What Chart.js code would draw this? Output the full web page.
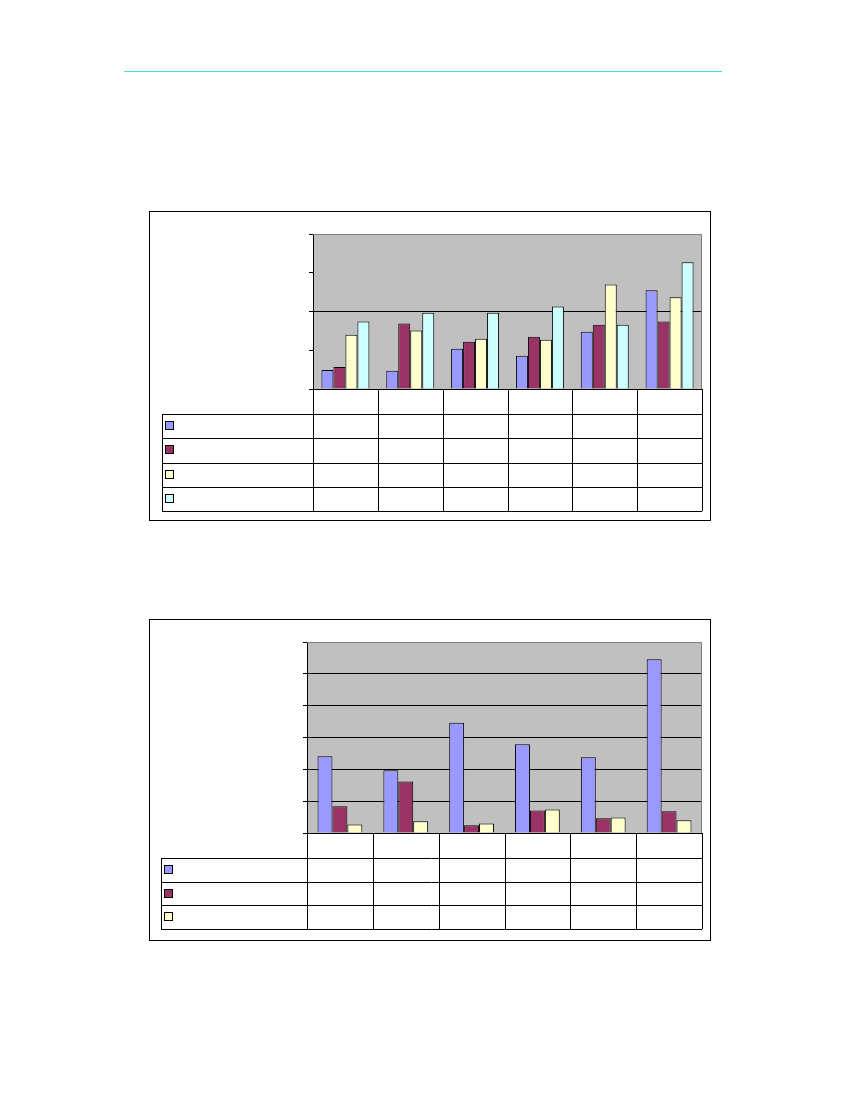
<!DOCTYPE html>
<html>
<head>
<meta charset="utf-8">
<script src="https://cdn.jsdelivr.net/npm/chart.js@4.4.1/dist/chart.umd.min.js"></script>
<style>
  html, body { margin: 0; padding: 0; background: #fff; }
  body { width: 850px; height: 1100px; position: relative; overflow: hidden; font-family: "Liberation Sans", Arial, sans-serif; }
  .rule { position: absolute; left: 124px; top: 71px; width: 598px; height: 1px; background: #40e0f0; }
  .box { position: absolute; border: 1px solid #000; box-sizing: border-box; }
  .box canvas { position: absolute; left: 0; top: 0; }
</style>
</head>
<body>
<div class="rule"></div>
<div class="box" id="box1" style="left:149px; top:211px; width:562px; height:310px;">
  <canvas id="c1" width="562" height="310"></canvas>
</div>
<div class="box" id="box2" style="left:149px; top:619px; width:562px; height:322px;">
  <canvas id="c2" width="562" height="322"></canvas>
</div>
<script>
// Category slots shared by both charts
const categories = ['1', '2', '3', '4', '5', '6'];

// Upper chart: four series
const upperSeriesA = [0.49, 0.47, 1.04, 0.86, 1.48, 2.55];
const upperSeriesB = [0.57, 1.69, 1.22, 1.35, 1.66, 1.74];
const upperSeriesC = [1.40, 1.51, 1.30, 1.27, 2.70, 2.37];
const upperSeriesD = [1.74, 1.97, 1.97, 2.13, 1.66, 3.27];
const upperTicks = [0, 1, 2, 3, 4];

// Lower chart: three series
const lowerSeriesA = [2.41, 1.97, 3.46, 2.79, 2.38, 5.46];
const lowerSeriesB = [0.84, 1.62, 0.24, 0.71, 0.46, 0.68];
const lowerSeriesC = [0.27, 0.37, 0.30, 0.74, 0.49, 0.40];
const lowerTicks = [0, 1, 2, 3, 4, 5, 6];

const palette = ['#9999FF', '#993366', '#FFFFCC', '#CCFFFF'];

// Plot background, grey frame on top/right, and the empty data table with legend keys
const sheetPlugin = {
  id: 'sheet',
  beforeDraw(chart, args, opts) {
    const { ctx, chartArea: a } = chart;
    ctx.save();
    ctx.fillStyle = '#C0C0C0';
    ctx.fillRect(a.left, a.top, a.right - a.left, a.bottom - a.top);
    ctx.restore();
  },
  afterDraw(chart, args, opts) {
    const { ctx, chartArea: a } = chart;
    const xs = chart.scales.x;
    const n = xs.ticks.length;
    const step = (a.right - a.left) / n;
    const rows = chart.data.datasets.length;
    const tableTop = a.bottom + opts.headRow;
    const tableBottom = tableTop + rows * opts.rowH;
    ctx.save();
    // grey frame
    ctx.strokeStyle = '#808080';
    ctx.lineWidth = 1;
    ctx.beginPath();
    ctx.moveTo(a.left, a.top + 0.5);
    ctx.lineTo(a.right - 0.5, a.top + 0.5);
    ctx.lineTo(a.right - 0.5, a.bottom);
    ctx.stroke();
    // table lines
    ctx.strokeStyle = '#000';
    ctx.beginPath();
    for (let i = 0; i <= n; i++) {
      const x = Math.round(a.left + i * step) + 0.5;
      ctx.moveTo(x, a.bottom);
      ctx.lineTo(x, tableBottom);
    }
    for (let r = 0; r <= rows; r++) {
      const y = Math.round(tableTop + r * opts.rowH) + 0.5;
      ctx.moveTo(opts.tableLeft, y);
      ctx.lineTo(a.right, y);
    }
    ctx.moveTo(opts.tableLeft + 0.5, tableTop);
    ctx.lineTo(opts.tableLeft + 0.5, tableBottom);
    ctx.stroke();
    // legend keys
    chart.data.datasets.forEach((ds, r) => {
      const cy = Math.round(tableTop + (r + 0.5) * opts.rowH);
      const kx = opts.tableLeft + 3.5, ky = cy - 4.5;
      ctx.fillStyle = ds.backgroundColor;
      ctx.fillRect(kx, ky, 8, 8);
      ctx.strokeStyle = '#000';
      ctx.strokeRect(kx, ky, 8, 8);
    });
    ctx.restore();
  }
};

function makeChart(id, seriesList, ticks, catPct, pad, table) {
  const maxV = ticks[ticks.length - 1];
  return new Chart(document.getElementById(id), {
    type: 'bar',
    data: {
      labels: categories,
      datasets: seriesList.map((s, i) => ({
        data: s,
        backgroundColor: palette[i],
        borderColor: '#000',
        borderWidth: 1,
        borderSkipped: 'bottom',
        barPercentage: 1,
        categoryPercentage: catPct
      }))
    },
    options: {
      responsive: false,
      animation: false,
      events: [],
      layout: { padding: pad },
      plugins: {
        legend: { display: false },
        tooltip: { enabled: false },
        title: { display: false },
        sheet: table
      },
      scales: {
        x: {
          ticks: { display: false },
          grid: { display: false, drawTicks: false },
          border: { display: true, color: '#000', width: 1 },
          afterFit(scale) { scale.height = 0; }
        },
        y: {
          min: 0,
          max: maxV,
          afterBuildTicks(scale) { scale.ticks = ticks.map(v => ({ value: v })); },
          ticks: { display: false },
          grid: {
            color: c => (c.tick && c.tick.value > 0 && c.tick.value < maxV && (table.gridEvery ? c.tick.value % table.gridEvery === 0 : true)) ? '#000' : 'rgba(0,0,0,0)',
            tickColor: '#000',
            tickLength: 4,
            lineWidth: 1
          },
          border: { display: true, color: '#000', width: 1 },
          afterFit(scale) { scale.width = 0; }
        }
      }
    },
    plugins: [sheetPlugin]
  });
}

makeChart('c1',
  [upperSeriesA, upperSeriesB, upperSeriesC, upperSeriesD],
  upperTicks, 0.74,
  { left: 163, top: 22, right: 10, bottom: 133 },
  { headRow: 25, rowH: 24.3, tableLeft: 12, gridEvery: 2 });

makeChart('c2',
  [lowerSeriesA, lowerSeriesB, lowerSeriesC],
  lowerTicks, 0.68,
  { left: 157, top: 22, right: 10, bottom: 109 },
  { headRow: 25, rowH: 23.7, tableLeft: 11, gridEvery: 0 });
</script>
</body>
</html>
